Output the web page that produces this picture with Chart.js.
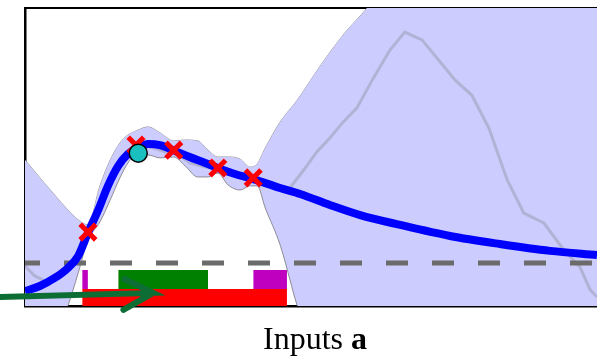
<!DOCTYPE html>
<html>
<head>
<meta charset="utf-8">
<script src="https://cdn.jsdelivr.net/npm/chart.js@4.4.1/dist/chart.umd.min.js"></script>
<style>
  html, body { margin: 0; padding: 0; background: #fff; }
</style>
</head>
<body>
<canvas id="gpChart" width="597" height="357"></canvas>
<script>
// posterior mean of the surrogate
const meanX = [0.00, 0.26, 0.52, 0.73, 0.93, 1.10, 1.28, 1.45, 1.63, 1.80, 1.98, 2.15, 2.36, 2.59, 2.88, 3.15, 3.37, 3.67, 3.99, 4.46, 4.81, 5.33, 5.86, 6.56, 7.43, 8.30, 9.18, 10.00];
const meanY = [0.50, 0.67, 0.94, 1.24, 1.68, 2.45, 3.22, 4.03, 4.70, 5.10, 5.30, 5.44, 5.40, 5.23, 5.00, 4.80, 4.63, 4.43, 4.26, 3.96, 3.76, 3.39, 3.05, 2.72, 2.35, 2.08, 1.85, 1.71];

// confidence band
const bandX = [0.00, 0.26, 0.52, 0.75, 0.93, 1.10, 1.31, 1.49, 1.66, 1.80, 1.94, 2.15, 2.36, 2.60, 2.80, 3.02, 3.20, 3.37, 3.55, 3.76, 3.93, 4.06, 4.20, 4.46, 4.76, 5.16, 5.59, 5.98, 6.56, 7.43, 8.30, 10.00];
const bandUpper = [4.90, 4.30, 3.72, 3.22, 2.89, 2.72, 4.03, 4.90, 5.47, 5.74, 5.87, 6.01, 5.81, 5.54, 5.57, 5.54, 5.23, 5.00, 5.00, 4.93, 4.66, 4.77, 5.30, 6.17, 6.91, 8.05, 9.16, 10.00, 11.61, 13.62, 15.30, 16.98];
const bandLower = [-3.83, -2.48, -1.14, 0.00, 1.11, 2.21, 2.82, 3.56, 4.30, 4.80, 5.07, 5.07, 4.97, 5.00, 4.70, 4.33, 4.33, 4.46, 4.06, 3.89, 4.03, 4.03, 3.29, 2.05, 0.00, -2.15, -4.50, -6.51, -8.52, -10.54, -12.55, -15.91];

// one sample drawn from the posterior
const sampleX = [0.00, 0.17, 0.35, 0.52, 0.73, 0.93, 1.10, 1.31, 1.49, 1.66, 1.84, 1.96, 2.19, 2.45, 2.62, 2.88, 3.15, 3.37, 3.67, 3.99, 4.28, 4.63, 4.90, 5.10, 5.33, 5.56, 5.80, 6.10, 6.38, 6.64, 6.94, 7.26, 7.52, 7.81, 8.11, 8.43, 8.72, 9.07, 9.42, 9.70, 9.88, 10.00];
const sampleY = [1.34, 1.01, 0.84, 0.91, 1.24, 1.68, 2.45, 3.36, 4.16, 4.77, 5.13, 5.37, 5.34, 5.17, 5.17, 4.80, 4.66, 4.60, 4.36, 4.26, 4.09, 3.96, 4.63, 5.17, 5.64, 6.17, 6.64, 7.68, 8.59, 9.19, 8.93, 8.19, 7.58, 7.08, 5.97, 4.23, 3.12, 2.79, 1.88, 1.31, 0.54, 0.30];

// observations and the current best
const obsX = [1.10, 1.94, 2.60, 3.37, 3.99];
const obsY = [2.48, 5.40, 5.23, 4.63, 4.30];
const bestX = [1.98];
const bestY = [5.13];

const thresholdY = 1.44;

// regions along the input axis: [start, end, bottom, top]
const regionNames = ['red', 'green', 'magentaLeft', 'magentaRight'];
const regionStart = [1.00, 1.63, 1.00, 3.99];
const regionEnd = [4.58, 3.20, 1.10, 4.58];
const regionBottom = [0.00, 0.57, 0.57, 0.57];
const regionTop = [0.57, 1.21, 1.21, 1.21];
const regionColors = ['#ff0000', '#008000', '#bf00bf', '#bf00bf'];

// arrow path (shaft, then both barbs)
const arrowX = [-0.44, 2.24, 1.70, 2.24, 1.72];
const arrowY = [0.30, 0.44, 0.94, 0.44, -0.13];

function pts(xs, ys) {
    return xs.map((x, i) => ({ x: x, y: ys[i] }));
}

const datasets = [];

datasets.push({
    label: 'upper',
    data: pts(bandX, bandUpper),
    borderColor: 'rgba(120,120,120,0.8)',
    borderWidth: 1,
    pointRadius: 0,
    fill: false,
    cubicInterpolationMode: 'monotone',
    order: 20
});
datasets.push({
    label: 'lower',
    data: pts(bandX, bandLower),
    borderColor: 'rgba(120,120,120,0.8)',
    borderWidth: 1,
    pointRadius: 0,
    backgroundColor: '#ccccff',
    fill: 0,
    cubicInterpolationMode: 'monotone',
    order: 19
});
datasets.push({
    label: 'sample',
    data: pts(sampleX, sampleY),
    borderColor: 'rgba(140,140,150,0.4)',
    borderWidth: 3,
    pointRadius: 0,
    fill: false,
    tension: 0,
    order: 18
});
datasets.push({
    label: 'threshold',
    data: [{ x: 0, y: thresholdY }, { x: 10, y: thresholdY }],
    borderColor: '#6b6b6b',
    borderWidth: 5,
    borderDash: [22, 24],
    borderDashOffset: 7,
    pointRadius: 0,
    fill: false,
    order: 17
});
regionNames.forEach((name, i) => {
    datasets.push({
        label: name,
        data: [{ x: regionStart[i], y: regionTop[i] }, { x: regionEnd[i], y: regionTop[i] }],
        borderWidth: 0,
        borderColor: regionColors[i],
        backgroundColor: regionColors[i],
        pointRadius: 0,
        fill: { value: regionBottom[i] },
        order: 16 - i
    });
});
datasets.push({
    label: 'mean',
    data: pts(meanX, meanY),
    borderColor: '#0000ff',
    borderWidth: 8,
    pointRadius: 0,
    fill: false,
    cubicInterpolationMode: 'monotone',
    order: 5
});
datasets.push({
    label: 'observations',
    data: pts(obsX, obsY),
    showLine: false,
    pointStyle: 'crossRot',
    pointRadius: 11,
    pointBorderWidth: 5,
    pointBorderColor: '#ff0000',
    order: 4
});
datasets.push({
    label: 'best',
    data: pts(bestX, bestY),
    showLine: false,
    pointStyle: 'circle',
    pointRadius: 9,
    pointBorderWidth: 1.5,
    pointBorderColor: '#000',
    pointBackgroundColor: '#1abfbf',
    order: 3
});
datasets.push({
    label: 'arrow',
    data: pts(arrowX, arrowY),
    borderColor: '#0c6e34',
    borderWidth: 6,
    borderCapStyle: 'round',
    borderJoinStyle: 'miter',
    pointRadius: 0,
    fill: false,
    clip: false,
    order: 1
});

// x label with a bold symbol
const axisLabel = {
    id: 'axisLabel',
    afterDraw(chart) {
        const ctx = chart.ctx;
        const area = chart.chartArea;
        ctx.save();
        ctx.fillStyle = '#000';
        ctx.textBaseline = 'alphabetic';
        ctx.font = '32px "Liberation Serif"';
        const w1 = ctx.measureText('Inputs ').width;
        ctx.font = 'bold 32px "Liberation Serif"';
        const w2 = ctx.measureText('a').width;
        let x = 315 - (w1 + w2) / 2;
        const y = area.bottom + 43;
        ctx.font = '32px "Liberation Serif"';
        ctx.fillText('Inputs ', x, y);
        ctx.font = 'bold 32px "Liberation Serif"';
        ctx.fillText('a', x + w1, y);
        ctx.restore();
    }
};

const hiddenAxis = (pos, width) => ({
    type: 'linear',
    position: pos,
    min: 0,
    max: 10,
    ticks: { display: false },
    grid: { display: false, drawTicks: false },
    border: { display: true, color: '#000', width: width }
});

const ctx = document.getElementById('gpChart').getContext('2d');
new Chart(ctx, {
    type: 'line',
    data: { datasets: datasets },
    options: {
        responsive: false,
        animation: false,
        events: [],
        layout: { autoPadding: false, padding: { left: 25, top: 8, right: 0, bottom: 51 } },
        plugins: {
            legend: { display: false },
            tooltip: { enabled: false },
            title: { display: false }
        },
        scales: {
            x: hiddenAxis('bottom', 2.5),
            xTop: hiddenAxis('top', 2),
            y: hiddenAxis('left', 2.5)
        }
    },
    plugins: [axisLabel]
});
</script>
</body>
</html>
